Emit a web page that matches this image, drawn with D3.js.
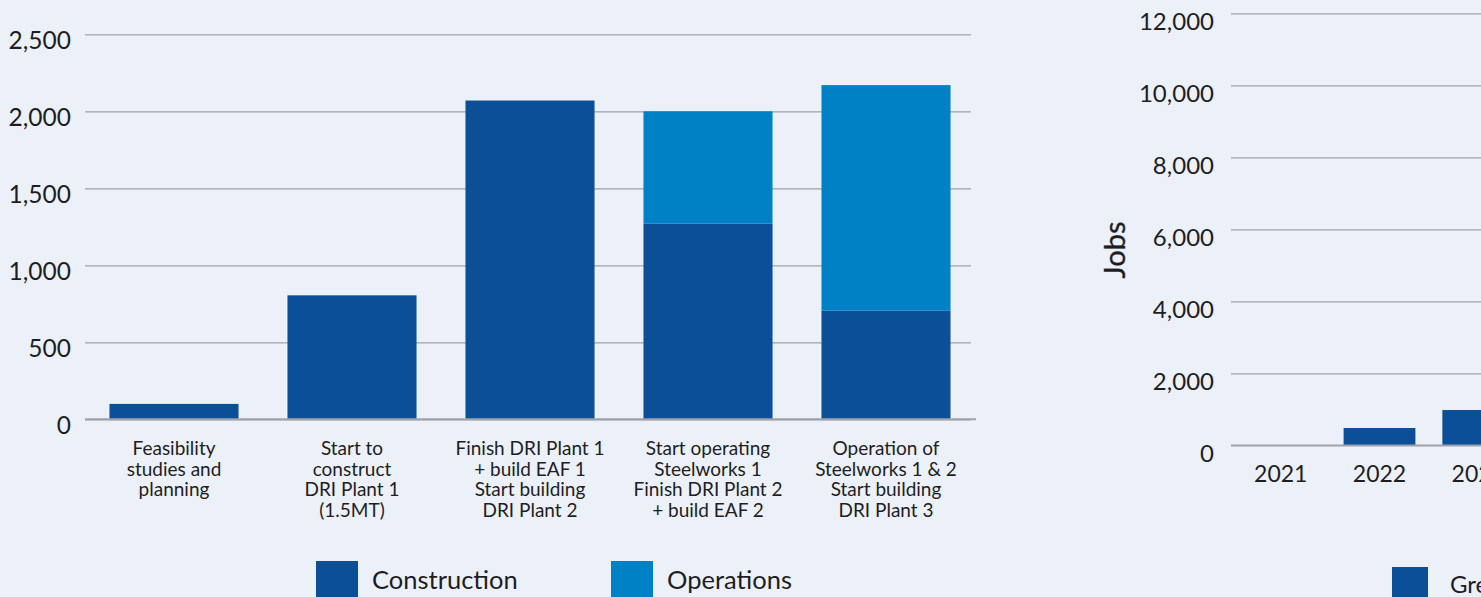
<!DOCTYPE html>
<html>
<head>
<meta charset="utf-8">
<script src="https://cdn.jsdelivr.net/npm/d3@7/dist/d3.min.js"></script>
<style>
  html, body { margin: 0; padding: 0; background: #ECF0F9; }
  svg { display: block; font-family: Lato, "Open Sans", sans-serif; }
  svg text { font-family: Lato, "Open Sans", sans-serif; }
  .domain { display: none; }
</style>
</head>
<body>
<svg id="chart" width="1481" height="597"></svg>
<script>
// Jobs by project stage (left panel)
const stageLabels = [
  ["Feasibility", "studies and", "planning"],
  ["Start to", "construct", "DRI Plant 1", "(1.5MT)"],
  ["Finish DRI Plant 1", "+ build EAF 1", "Start building", "DRI Plant 2"],
  ["Start operating", "Steelworks 1", "Finish DRI Plant 2", "+ build EAF 2"],
  ["Operation of", "Steelworks 1 & 2", "Start building", "DRI Plant 3"]
];
const constructionJobs = [100, 805, 2070, 1270, 705];
const operationsJobs = [0, 0, 0, 730, 1465];
const stageTicks = [0, 500, 1000, 1500, 2000, 2500];
const seriesNames = ["Construction", "Operations"];

// Jobs by year (right panel)
const years = ["2021", "2022", "2023"];
const yearJobs = [0, 480, 980];
const yearTicks = [0, 2000, 4000, 6000, 8000, 10000, 12000];
const yearSeriesName = "Green steel";

const colors = { Construction: "#0B4F97", Operations: "#0080C5" };
const gridColor = "#A0A2A9";
const textColor = "#1E1E22";
const fontFamily = "Lato, 'Open Sans', sans-serif";

const svg = d3.select("#chart");

/* ---------- left panel ---------- */
const L = { x0: 85, x1: 975, gridEnd: 971, y0: 419.3, y1: 34.3 };

const stageIdx = stageLabels.map((_, i) => i);
const xL = d3.scaleBand().domain(stageIdx).range([L.x0, L.x1])
  .paddingInner(0.275).paddingOuter(0.1375);
const yL = d3.scaleLinear().domain([0, 2500]).range([L.y0, L.y1]);

const gL = svg.append("g");

// gridlines + tick labels
const yAxisL = gL.append("g")
  .attr("transform", `translate(${L.x0},0)`)
  .call(d3.axisLeft(yL).tickValues(stageTicks).tickFormat(d3.format(","))
    .tickSize(-(L.gridEnd - L.x0)).tickPadding(14))
  .attr("font-family", fontFamily);
yAxisL.selectAll(".tick line").attr("stroke", gridColor).attr("stroke-width", 1.2);
yAxisL.selectAll(".tick text")
  .attr("fill", textColor).attr("font-size", 24.5).attr("dy", 14);

// stacked bars
const stackRows = stageIdx.map(i => ({
  i, Construction: constructionJobs[i], Operations: operationsJobs[i]
}));
const stacked = d3.stack().keys(seriesNames)(stackRows);
gL.append("g").selectAll("g").data(stacked).join("g")
  .attr("fill", d => colors[d.key])
  .selectAll("rect").data(d => d.filter(s => s[1] > s[0])).join("rect")
  .attr("x", d => xL(d.data.i))
  .attr("width", xL.bandwidth())
  .attr("y", d => yL(d[1]))
  .attr("height", d => yL(d[0]) - yL(d[1]));

// baseline
gL.append("line")
  .attr("x1", L.x0).attr("x2", L.x1 + 1)
  .attr("y1", L.y0).attr("y2", L.y0)
  .attr("stroke", gridColor).attr("stroke-width", 2);

// category labels
const xAxisL = gL.append("g")
  .attr("transform", `translate(0,${L.y0})`)
  .call(d3.axisBottom(xL).tickSize(0).tickFormat(""))
  .attr("font-family", fontFamily);
xAxisL.selectAll(".tick").append("text")
  .attr("fill", textColor).attr("font-size", 19).attr("text-anchor", "middle")
  .selectAll("tspan").data(i => stageLabels[i]).join("tspan")
  .attr("x", 0)
  .attr("y", (d, k) => 35.7 + k * 20.6)
  .text(d => d);

// legend
const legendL = gL.append("g");
const legendPos = [{ x: 316 }, { x: 611 }];
seriesNames.forEach((name, k) => {
  const lg = legendL.append("g").attr("transform", `translate(${legendPos[k].x},561)`);
  lg.append("rect").attr("width", 42).attr("height", 42).attr("fill", colors[name]);
  lg.append("text").attr("x", 56).attr("y", 28.3)
    .attr("font-size", 25.5).attr("fill", textColor).text(name);
});

/* ---------- right panel ---------- */
const R = { x0: 1231, step: 99, y0: 445.3, y1: 13.3 };
const xR = d3.scaleBand().domain(years)
  .range([R.x0, R.x0 + R.step * years.length])
  .paddingInner(0.273).paddingOuter(0.14);
const yR = d3.scaleLinear().domain([0, 12000]).range([R.y0, R.y1]);

const gR = svg.append("g");
const yAxisR = gR.append("g")
  .attr("transform", `translate(${R.x0},0)`)
  .call(d3.axisLeft(yR).tickValues(yearTicks).tickFormat(d3.format(","))
    .tickSize(-(1481 - R.x0 + 20)).tickPadding(17))
  .attr("font-family", fontFamily);
yAxisR.selectAll(".tick line").attr("stroke", gridColor).attr("stroke-width", 1.2);
yAxisR.selectAll(".tick text")
  .attr("fill", textColor).attr("font-size", 24).attr("dy", 16);

gR.append("g").selectAll("rect").data(years).join("rect")
  .attr("fill", colors.Construction)
  .attr("x", d => xR(d))
  .attr("width", xR.bandwidth())
  .attr("y", (d, i) => yR(yearJobs[i]))
  .attr("height", (d, i) => yR(0) - yR(yearJobs[i]));

gR.append("line")
  .attr("x1", R.x0).attr("x2", 1500)
  .attr("y1", R.y0).attr("y2", R.y0)
  .attr("stroke", gridColor).attr("stroke-width", 1.6);

const xAxisR = gR.append("g")
  .attr("transform", `translate(0,${R.y0})`)
  .call(d3.axisBottom(xR).tickSize(0).tickPadding(0))
  .attr("font-family", fontFamily);
xAxisR.selectAll(".tick text")
  .attr("fill", textColor).attr("font-size", 23).attr("dy", 0).attr("y", 36.5);

gR.append("text")
  .attr("transform", `translate(1125,250) rotate(-90)`)
  .attr("text-anchor", "middle")
  .attr("font-size", 29).attr("font-weight", 400).attr("fill", textColor)
  .attr("stroke", textColor).attr("stroke-width", 0.35)
  .text("Jobs");

const legendR = gR.append("g").attr("transform", "translate(1392,567)");
legendR.append("rect").attr("width", 36).attr("height", 36).attr("fill", colors.Construction);
legendR.append("text").attr("x", 58).attr("y", 26)
  .attr("font-size", 24).attr("fill", textColor).text(yearSeriesName);
</script>
</body>
</html>
